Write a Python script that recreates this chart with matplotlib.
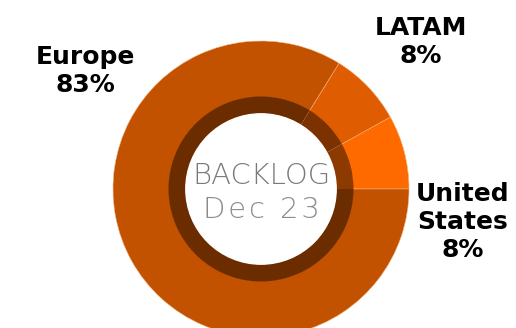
import matplotlib.pyplot as plt

regions = ['Europe', 'LATAM', 'United\nStates']
shares = [83, 8, 8]
colors = ['#C25100', '#E05C00', '#FF6A00']
dark = ['#6B2C00', '#7B3200', '#8C3A00']

plt.rcParams['font.family'] = ['DejaVu Sans']

fig = plt.figure(figsize=(5.16, 3.28), dpi=100)
W, H = 516, 328
cx, cy, R = 261, 328 - 189, 148
ax = fig.add_axes([(cx - R) / W, (cy - R) / H, 2 * R / W, 2 * R / H])

# outer ring, slices counter clockwise from 3 o'clock
order = [2, 1, 0]
vals = [shares[i] for i in order]
ax.pie(vals, colors=[colors[i] for i in order], radius=1, startangle=0,
       counterclock=True,
       wedgeprops=dict(width=0.38, edgecolor='#F3B27A', linewidth=0.4))
# dark inner ring
ax.pie(vals, colors=[dark[i] for i in order], radius=0.625, startangle=0,
       counterclock=True, wedgeprops=dict(width=0.12, linewidth=0))
# white center
ax.add_patch(plt.Circle((0, 0), 0.508, color='white', zorder=5))
ax.set_xlim(-1, 1)
ax.set_ylim(-1, 1)
ax.set_aspect('equal')
ax.axis('off')

hs = '\u200a'
ax.text(0, 0.09, 'BACKLOG', ha='center', va='center', fontsize=21,
        fontweight=200, color='#7a7a7a', zorder=6)
ax.text(0, -0.14, hs.join('Dec 23'), ha='center', va='center', fontsize=21,
        fontweight=200, color='#8c8c8c', zorder=6)

lab_kw = dict(ha='center', va='center', fontsize=18, fontweight='bold',
              color='black', linespacing=1.22)
fig.text(85 / W, 1 - 71 / H, f'{regions[0]}\n{shares[0]}%', **lab_kw)
fig.text(421 / W, 1 - 42 / H, f'{regions[1]}\n{shares[1]}%', **lab_kw)
fig.text(463 / W, 1 - 222 / H, f'{regions[2]}\n{shares[2]}%', **lab_kw)

fig.savefig('out.png', dpi=100)
